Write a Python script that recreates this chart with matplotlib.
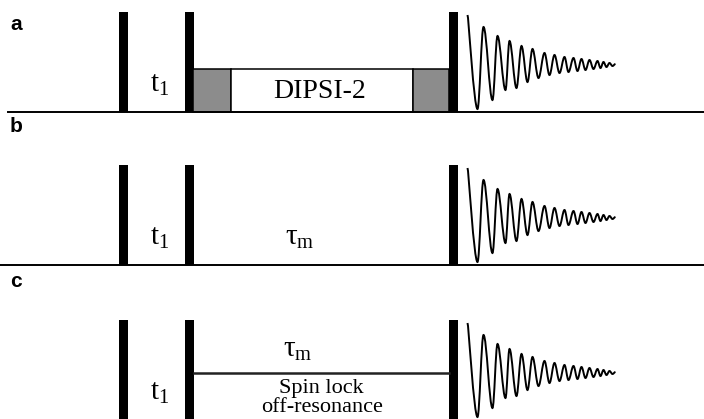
import matplotlib.pyplot as plt
from matplotlib.patches import Rectangle, PathPatch
from matplotlib.path import Path

plt.rcParams['mathtext.fontset'] = 'custom'
plt.rcParams['mathtext.rm'] = 'Liberation Serif'
plt.rcParams['mathtext.it'] = 'Liberation Serif:italic'

# pulse sequence timing (time units, left edges of the hard pulses)
pulse_starts = [119, 185, 449]
pulse_width = 8.5
# mixing blocks of panel a: (start, end, colour)
mix_blocks = [(193, 231, '#8c8c8c'), (231, 413, 'white'), (413, 449, '#8c8c8c')]
mix_level = 0.43
spinlock_level = 0.47
# FID turning points: offset after last pulse, amplitude
fid_dt = [10, 20, 26, 35, 40, 48, 52, 59, 64, 70, 75, 81, 87, 92, 97, 102, 107,
          111, 116, 120, 124, 128, 132, 136, 140, 143, 146, 149, 152, 155, 158]
fid_amp = [0.97, 0.03, 0.85, 0.12, 0.76, 0.22, 0.71, 0.24, 0.66, 0.30, 0.63, 0.34,
           0.59, 0.37, 0.57, 0.39, 0.55, 0.40, 0.54, 0.41, 0.53, 0.42, 0.52, 0.43,
           0.51, 0.44, 0.50, 0.45, 0.49, 0.46, 0.48]

panel_names = ['a', 'b', 'c']
baselines_px = [112, 265, 420]   # baseline row of each panel in the figure
label_rows_px = [25, 127, 281]

W, H = 704, 419
fig = plt.figure(figsize=(W / 100, H / 100), dpi=100)


def fid_path(x0):
    # smooth curve through the turning points, flat at every extremum
    xs = [x0 + d for d in fid_dt]
    verts = [(xs[0], fid_amp[0])]
    codes = [Path.MOVETO]
    for i in range(1, len(xs)):
        dx = xs[i] - xs[i - 1]
        k = 0.1 if i == 1 else 0.36
        verts += [(xs[i - 1] + k * dx, fid_amp[i - 1]),
                  (xs[i] - 0.36 * dx, fid_amp[i]),
                  (xs[i], fid_amp[i])]
        codes += [Path.CURVE4] * 3
    return Path(verts, codes)


axes = []
for name, b, lr in zip(panel_names, baselines_px, label_rows_px):
    ax = fig.add_axes([0, (H - b) / H, 1, 100 / H])
    ax.set_xlim(0, W)
    ax.set_ylim(0, 1)
    ax.axis('off')
    axes.append(ax)
    fig.text(10 / W, 1 - lr / H, name, fontsize=15, fontweight='bold',
             family='Liberation Sans', va='center', ha='left')

    for p in pulse_starts:
        ax.add_patch(Rectangle((p, 0), pulse_width, 1, color='black', lw=0,
                               clip_on=False))
    t_end = pulse_starts[-1] + pulse_width
    ax.add_patch(PathPatch(fid_path(t_end), facecolor='none',
                           edgecolor='black', lw=1.4, clip_on=False))
    ax.text(160, 0.28, r'$\mathrm{t}_1$', fontsize=21, ha='center',
            va='center')

ax_a, ax_b, ax_c = axes

# panel a
ax_a.plot([8, W], [0, 0], color='black', lw=1.4, clip_on=False)
for s, e, c in mix_blocks:
    ax_a.add_patch(Rectangle((s, 0), e - s, mix_level, facecolor=c,
                             edgecolor='black', lw=1.1, clip_on=False))
ax_a.text(320, 0.21, 'DIPSI-2', fontsize=20, family='Liberation Serif',
          ha='center', va='center')

# panel b
ax_b.plot([0, W], [0, 0], color='black', lw=1.4, clip_on=False)
ax_b.text(300, 0.28, r'$\mathrm{\tau}_\mathrm{m}$', fontsize=21,
          ha='center', va='center')

# panel c
ax_c.plot([pulse_starts[1] + pulse_width, pulse_starts[2]],
          [spinlock_level, spinlock_level], color='#222222', lw=1.8)
ax_c.text(298, 0.71, r'$\mathrm{\tau}_\mathrm{m}$', fontsize=21,
          ha='center', va='center')
ax_c.text(321, 0.32, 'Spin lock', fontsize=16, family='Liberation Serif',
          ha='center', va='center')
ax_c.text(322, 0.13, 'off-resonance', fontsize=16, family='Liberation Serif',
          ha='center', va='center')

fig.savefig('out.png', dpi=100)
